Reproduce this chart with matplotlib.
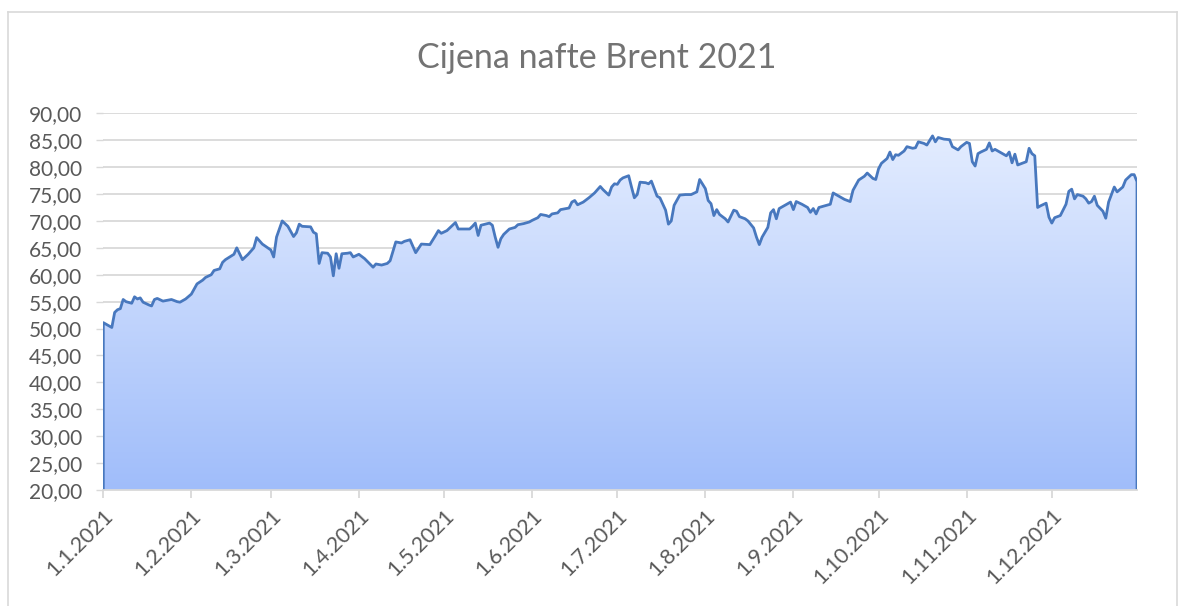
import numpy as np
import matplotlib
matplotlib.use("Agg")
import matplotlib.pyplot as plt
import matplotlib.dates as mdates
from matplotlib.patches import Polygon
from matplotlib.lines import Line2D
from matplotlib.colors import LinearSegmentedColormap
import pandas as pd

title = "Cijena nafte Brent 2021"

# day offset from 1.1.2021 and Brent price (USD)
day_offsets = [
    0, 3, 4, 5, 6, 7, 8, 10, 11, 12, 13, 14, 16, 17, 18, 19, 21, 24, 26, 27,
    29, 31, 33, 35, 36, 38, 39, 41, 42, 43, 46, 47, 49, 51, 53, 54, 56, 59, 60,
    61, 63, 65, 67, 68, 69, 70, 73, 74, 75, 76, 77, 79, 80, 81, 82, 83, 84, 86,
    87, 88, 90, 92, 95, 96, 98, 100, 101, 103, 105, 106, 108, 110, 112, 115,
    117, 118, 119, 121, 122, 124, 125, 127, 129, 130, 131, 132, 133, 136, 137,
    138, 139, 140, 141, 143, 145, 146, 148, 150, 151, 153, 154, 156, 157, 158,
    160, 161, 163, 164, 165, 166, 167, 169, 171, 173, 175, 176, 178, 179, 180,
    181, 182, 183, 185, 186, 187, 188, 189, 191, 192, 193, 195, 196, 198, 199,
    200, 201, 203, 205, 207, 209, 210, 212, 213, 214, 215, 216, 217, 219, 220,
    222, 223, 224, 226, 227, 229, 230, 231, 232, 234, 235, 236, 237, 238, 240,
    242, 243, 244, 246, 248, 249, 250, 251, 252, 254, 256, 257, 259, 261, 263,
    264, 266, 268, 269, 271, 272, 273, 274, 276, 277, 278, 279, 280, 282, 283,
    285, 286, 287, 289, 290, 292, 293, 294, 296, 298, 299, 301, 302, 304, 305,
    306, 307, 308, 309, 311, 312, 313, 314, 316, 318, 319, 320, 321, 322, 325,
    326, 327, 328, 329, 330, 332, 333, 334, 335, 337, 339, 340, 341, 342, 343,
    345, 346, 347, 348, 349, 350, 352, 353, 354, 356, 357, 359, 360, 362, 363,
    364,
]
prices = [
    51.1, 50.2, 53.0, 53.5, 53.7, 55.4, 55.0, 54.7, 55.9, 55.5, 55.7, 54.9,
    54.4, 54.2, 55.4, 55.6, 55.1, 55.4, 55.0, 54.9, 55.5, 56.4, 58.3, 59.0,
    59.5, 60.0, 60.8, 61.1, 62.3, 62.8, 63.8, 65.0, 62.8, 63.8, 65.0, 66.9,
    65.7, 64.6, 63.3,
    67.0, 70.0, 69.0, 67.1, 67.8, 69.4, 69.0, 68.9, 67.9, 67.6, 62.1, 64.1,
    64.0, 63.3, 59.8, 63.9, 61.2, 63.9, 64.0, 64.1, 63.3, 63.8, 63.0, 61.4,
    62.0, 61.8, 62.1, 62.6, 66.1, 65.9, 66.2, 66.5, 64.1, 65.7, 65.6, 67.3,
    68.2,
    67.7, 68.2, 68.7, 69.7, 68.5, 68.5, 68.5, 69.0, 69.6, 67.3, 69.2, 69.6,
    69.2, 67.0, 65.1, 66.7, 67.5, 68.5, 68.8, 69.3, 69.5, 69.8, 70.1, 70.6,
    71.2, 71.0, 70.8, 71.3, 71.5, 72.1, 72.3, 72.4, 73.5, 73.8, 73.0, 73.5,
    74.3, 75.2, 76.4, 75.8, 74.8, 76.3, 76.9, 76.8,
    77.6, 78.0, 78.4, 76.3, 74.3, 74.9, 77.2, 77.1, 76.9, 77.4, 74.6, 74.3,
    72.0, 69.4, 70.0, 72.9, 74.8, 74.9, 74.9, 75.4, 77.7, 76.0, 73.8, 73.2,
    71.0, 72.1, 71.2, 70.4, 69.8, 72.0, 71.8, 70.8, 70.4, 70.0, 68.7, 67.0,
    65.6, 67.0, 68.8, 71.5, 72.1, 70.4, 72.3, 72.9,
    73.5, 72.1, 73.6, 73.1, 72.5, 71.6, 72.3, 71.3, 72.5, 72.8, 73.1, 75.2,
    74.6, 74.0, 73.6, 75.7, 77.6, 78.3, 78.9, 77.9, 77.7, 79.7, 80.7, 81.6,
    82.8, 81.4, 82.3, 82.2, 83.0, 83.8, 83.5, 83.6, 84.7, 84.4, 84.1, 85.8,
    84.7, 85.5, 85.2, 85.1, 83.8, 83.2, 83.8, 84.6, 84.4, 81.0, 80.2, 82.5,
    82.8, 83.3, 84.5, 83.0, 83.3, 82.7, 82.1, 82.8, 80.8, 82.4, 80.4, 81.0,
    83.5, 82.5, 82.1, 72.5, 72.8, 73.3, 70.7, 69.6, 70.6, 71.0, 73.1, 75.5,
    75.9, 74.1, 74.9, 74.6, 74.1, 73.3, 73.6, 74.6, 72.9, 71.8, 70.5, 73.5,
    76.3, 75.4, 76.3, 77.6, 78.6, 78.6, 77.3,
]

tick_dates = ["2021-01-01", "2021-02-01", "2021-03-01", "2021-04-01",
              "2021-05-01", "2021-06-01", "2021-07-01", "2021-08-01",
              "2021-09-01", "2021-10-01", "2021-11-01", "2021-12-01"]
tick_labels = ["1.1.2021", "1.2.2021", "1.3.2021", "1.4.2021", "1.5.2021",
               "1.6.2021", "1.7.2021", "1.8.2021", "1.9.2021", "1.10.2021",
               "1.11.2021", "1.12.2021"]
y_ticks = [20, 25, 30, 35, 40, 45, 50, 55, 60, 65, 70, 75, 80, 85, 90]

FONT = ["Lato", "DejaVu Sans"]
TXT = "#595959"
GRID = "#D9D9D9"
LINE = "#4878BE"

dates = pd.Timestamp("2021-01-01") + pd.to_timedelta(day_offsets, unit="D")
x = mdates.date2num(dates.to_pydatetime())
y = np.array(prices)

W, H = 1181, 606
fig = plt.figure(figsize=(W / 100, H / 100), dpi=100)
fig.patch.set_facecolor("white")

ax = fig.add_axes([103.3 / W, 1 - 490 / H, (1137 - 103.3) / W, (490 - 113.3) / H])
x0 = mdates.date2num(pd.Timestamp("2021-01-01").to_pydatetime())
x1 = mdates.date2num(pd.Timestamp("2021-12-31").to_pydatetime())

# gradient-filled area
cmap = LinearSegmentedColormap.from_list("g", ["#A0BDFA", "#E4EDFF"])
grad = np.linspace(0, 1, 256).reshape(-1, 1)
im = ax.imshow(grad, extent=[x0, x1, 20, 87], origin="lower", aspect="auto",
               cmap=cmap, zorder=1, interpolation="bicubic")
verts = np.column_stack([np.r_[x[0], x, x[-1]], np.r_[20, y, 20]])
poly = Polygon(verts, closed=True, transform=ax.transData,
               facecolor="none", edgecolor="none")
ax.add_patch(poly)
im.set_clip_path(poly)
ax.plot(np.r_[x[0], x, x[-1]], np.r_[20, y, 20], color=LINE, lw=2.0,
        zorder=3, solid_joinstyle="round")

ax.set_xlim(x0, x1)
ax.set_ylim(20, 90)

ax.set_yticks(y_ticks)
ax.set_yticklabels([f"{v:.2f}".replace(".", ",") for v in y_ticks],
                   fontfamily=FONT, fontsize=15, color=TXT)
ax.yaxis.grid(True, color=GRID, lw=1.3)
ax.set_axisbelow(True)
ax.tick_params(axis="y", length=5, color=GRID, pad=10, width=1)

ax.set_xticks([mdates.date2num(pd.Timestamp(d).to_pydatetime()) for d in tick_dates])
ax.set_xticklabels(tick_labels, rotation=45, ha="right",
                   rotation_mode="anchor", fontfamily=FONT, fontsize=15.5,
                   color=TXT)
ax.tick_params(axis="x", length=6, color=GRID, pad=5, width=1.3)

for s in ["top", "right", "left"]:
    ax.spines[s].set_visible(False)
ax.spines["bottom"].set_color(GRID)
ax.spines["bottom"].set_linewidth(1.3)
ax.spines["bottom"].set_zorder(4)

fig.text(597 / W, 1 - 58 / H, title, ha="center", va="center",
         fontfamily=FONT, fontsize=24.5, fontweight="normal", color="#737373")

# chart border
bx0, bx1, by = 8 / W, 1177 / W, 1 - 12 / H
fig.add_artist(Line2D([bx0, bx1], [by, by], color=GRID, lw=1.2,
                      transform=fig.transFigure))
fig.add_artist(Line2D([bx0, bx0], [0, by], color=GRID, lw=1.2,
                      transform=fig.transFigure))
fig.add_artist(Line2D([bx1, bx1], [0, by], color=GRID, lw=1.2,
                      transform=fig.transFigure))

fig.savefig("out.png", dpi=100, facecolor="white")
